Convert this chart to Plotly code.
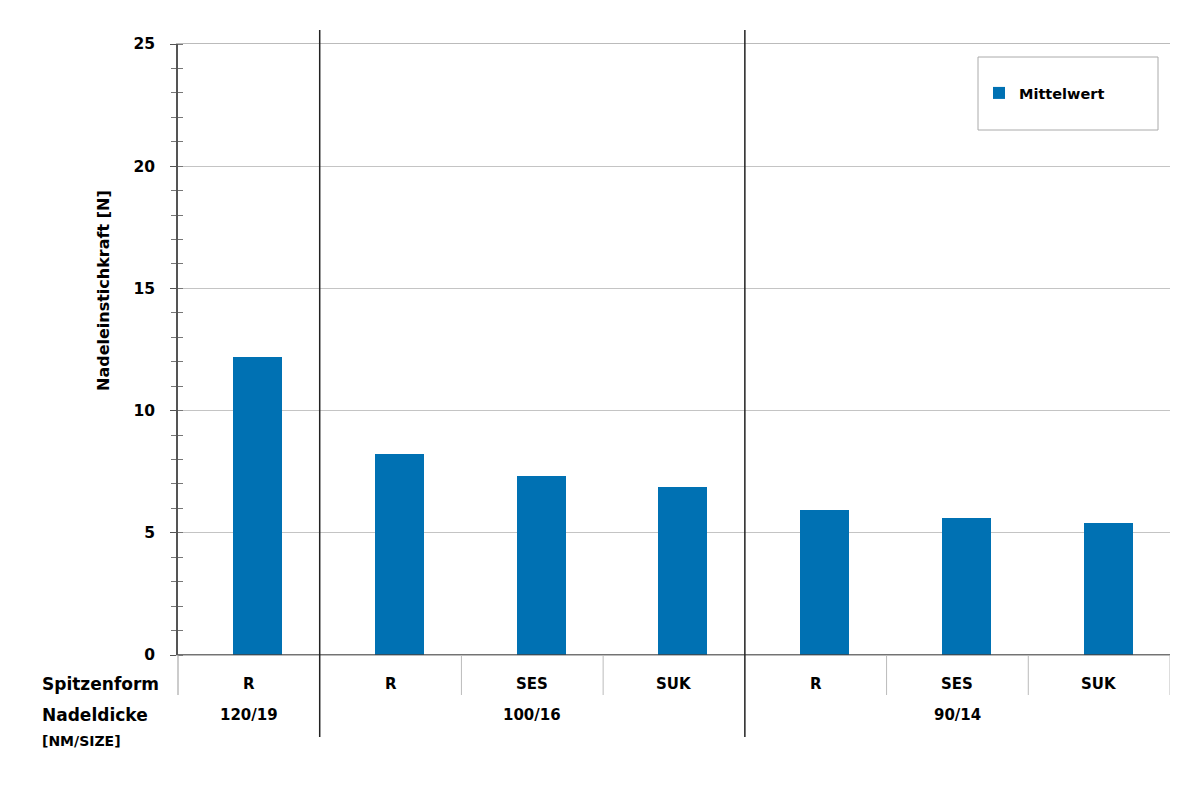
import plotly.graph_objects as go

categories = ["R", "R", "SES", "SUK", "R", "SES", "SUK"]
groups = ["120/19", "100/16", "90/14"]
group_sizes = [1, 3, 3]
values = [12.2, 8.22, 7.32, 6.87, 5.93, 5.62, 5.39]
y_ticks = [0, 5, 10, 15, 20, 25]

BAR = "#0071b3"
FONT = "DejaVu Sans"
off = 0.063  # bars sit slightly right of category centres

# page body margin of 8px is compensated in margins
L, R, T, B = 170, 38, 36, 156
PW = 1200 - L - R
PH = 803 - T - B


def px(xp):
    return (xp - 178) / PW


def py(yp):
    return (655 - yp) / PH


x_idx = list(range(len(values)))
fig = go.Figure()
fig.add_trace(go.Bar(x=x_idx, y=values, width=0.345, marker=dict(color=BAR, line=dict(width=0)),
                     name="Mittelwert", showlegend=True))
# invisible helper trace so the overlay axis (inner minor ticks) is drawn
fig.add_trace(go.Scatter(x=[x_idx[0]], y=[values[0]], yaxis="y2", mode="markers",
                         marker=dict(opacity=0), showlegend=False, hoverinfo="skip"))

fig.update_layout(
    width=1200, height=803,
    margin=dict(l=L, r=R, t=T, b=B),
    plot_bgcolor="white", paper_bgcolor="white",
    font=dict(family=FONT, color="black"),
    bargap=0,
    showlegend=True,
    legend=dict(x=px(979), y=py(93), xanchor="left", yanchor="middle", bgcolor="rgba(0,0,0,0)",
                font=dict(size=14.5, family=FONT, weight="bold"), itemwidth=30),
    xaxis=dict(range=[-0.5 - off, len(values) - 0.5 - off], showticklabels=False, showgrid=False,
               zeroline=False, showline=True, linecolor="#bbbbbb", linewidth=1, mirror=True, ticks=""),
    yaxis=dict(range=[0, 25], tickvals=y_ticks, showgrid=True, gridcolor="#c4c4c4", gridwidth=1,
               zeroline=False, showline=True, linecolor="#555555", linewidth=1.5,
               ticks="outside", ticklen=6, tickcolor="#555555",
               tickfont=dict(size=15.5, family=FONT, weight="bold"), ticklabelstandoff=12,
               minor=dict(dtick=1, ticks="outside", ticklen=5, tickcolor="#777777", showgrid=False)),
    yaxis2=dict(range=[0, 25], overlaying="y", side="left", showticklabels=False, showgrid=False,
                zeroline=False, showline=False, tickvals=[], ticks="",
                minor=dict(dtick=1, ticks="inside", ticklen=5, tickcolor="#777777", showgrid=False)),
)

shapes = []
shapes.append(dict(type="line", xref="paper", yref="y", x0=0, x1=1, y0=0, y1=0,
                   line=dict(color="#444444", width=1.5)))
shapes.append(dict(type="line", xref="paper", yref="paper", x0=0, x1=0, y0=py(695), y1=0,
                   line=dict(color="#999999", width=1)))
bounds = []
acc = 0
for gs in group_sizes[:-1]:
    acc += gs
    bounds.append(acc)
for i in range(1, len(values) + 1):
    xb = i - 0.5 - off
    if i in bounds:
        shapes.append(dict(type="line", xref="x", yref="paper", x0=xb, x1=xb, y0=py(737), y1=py(30),
                           line=dict(color="#222222", width=1.5)))
    else:
        shapes.append(dict(type="line", xref="x", yref="paper", x0=xb, x1=xb, y0=py(695), y1=0,
                           line=dict(color="#bbbbbb", width=1)))
shapes.append(dict(type="rect", xref="paper", yref="paper",
                   x0=px(978), x1=px(1158), y0=py(130), y1=py(57),
                   line=dict(color="#aaaaaa", width=1), fillcolor="rgba(0,0,0,0)"))
fig.update_layout(shapes=shapes)

ann = []
for i, c in enumerate(categories):
    ann.append(dict(x=i - off, y=py(684), xref="x", yref="paper", text=c, showarrow=False,
                    font=dict(size=15, family=FONT, weight="bold"), yanchor="middle"))
start = 0
for g, gs in zip(groups, group_sizes):
    center = start + (gs - 1) / 2 - off
    ann.append(dict(x=center, y=py(715), xref="x", yref="paper", text=g, showarrow=False,
                    font=dict(size=15, family=FONT, weight="bold"), yanchor="middle"))
    start += gs
ann.append(dict(x=px(40), y=py(684), xref="paper", yref="paper", text="Spitzenform", showarrow=False,
                xanchor="left", yanchor="middle", font=dict(size=17, family=FONT, weight="bold")))
ann.append(dict(x=px(40), y=py(715), xref="paper", yref="paper", text="Nadeldicke",
                showarrow=False, xanchor="left", yanchor="middle",
                font=dict(size=17, family=FONT, weight="bold")))
ann.append(dict(x=px(40), y=py(741), xref="paper", yref="paper", text="[NM/SIZE]",
                showarrow=False, xanchor="left", yanchor="middle",
                font=dict(size=14, family=FONT, weight="bold")))
ann.append(dict(x=px(103), y=py(291), xref="paper", yref="paper",
                text="Nadeleinstichkraft [N]", showarrow=False, textangle=-90,
                xanchor="center", yanchor="middle", font=dict(size=16, family=FONT, weight="bold")))
fig.update_layout(annotations=ann)

fig.write_html("out.html")
